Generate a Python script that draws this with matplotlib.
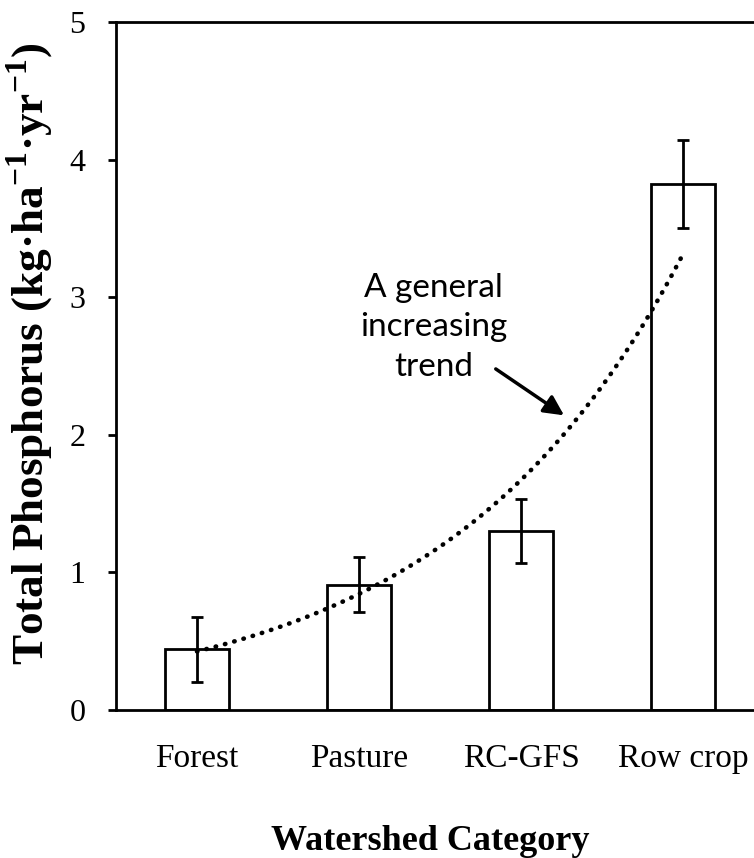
import numpy as np
import matplotlib
matplotlib.use("Agg")
import matplotlib.pyplot as plt

plt.rcParams['font.family'] = ['Liberation Serif', 'DejaVu Serif']
plt.rcParams['mathtext.fontset'] = 'custom'
plt.rcParams['mathtext.rm'] = 'Liberation Serif:bold'
plt.rcParams['mathtext.bf'] = 'Liberation Serif:bold'

categories = ["Forest", "Pasture", "RC-GFS", "Row crop"]
tp_mean = [0.44, 0.91, 1.30, 3.82]
tp_err = [0.235, 0.20, 0.23, 0.32]

fig = plt.figure(figsize=(7.54, 8.58), dpi=100)
ax = fig.add_axes([116 / 754, 148 / 858, 648 / 754, 688 / 858])

x = np.arange(len(categories))
ax.bar(x, tp_mean, width=0.4, color='white', edgecolor='black', linewidth=2,
       yerr=tp_err, error_kw=dict(ecolor='black', elinewidth=2, capsize=4.5, capthick=2))

# exponential trendline fitted to the bar means (like Excel)
b, a = np.polyfit(x + 1, np.log(tp_mean), 1)
xs = np.linspace(0, 3, 200)
ax.plot(xs, np.exp(a + b * (xs + 1)), color='black', linestyle=(0, (0.1, 2.0)),
        linewidth=3.3, dash_capstyle='round')

ax.annotate("", xy=(2.28, 2.13), xytext=(1.83, 2.49),
            arrowprops=dict(arrowstyle='-|>', mutation_scale=30, lw=2.5, color='black'))
ax.text(1.46, 2.78, "A general\nincreasing\ntrend", family='Lato', fontsize=24,
        ha='center', va='center', linespacing=1.4)

ax.set_xlim(-0.5, 3.5)
ax.set_ylim(0, 5)
ax.set_yticks([0, 1, 2, 3, 4, 5])
ax.set_xticks(x)
ax.set_xticklabels(categories)
ax.tick_params(axis='y', direction='out', length=6, width=2, pad=16, labelsize=23)
ax.tick_params(axis='x', length=0, pad=24, labelsize=24)
ax.spines['right'].set_visible(False)
for s in ['left', 'top', 'bottom']:
    ax.spines[s].set_linewidth(2)

fig.text(30 / 754, 1 - 354 / 858, r"Total Phosphorus (kg·ha$^{-1}$·yr$^{-1}$)",
         rotation=90, ha='center', va='center', fontsize=32.5, fontweight='bold')
fig.text(430 / 754, 1 - 842 / 858, "Watershed Category", ha='center', va='center',
         fontsize=26, fontweight='bold')

fig.savefig("out.png", dpi=100)
